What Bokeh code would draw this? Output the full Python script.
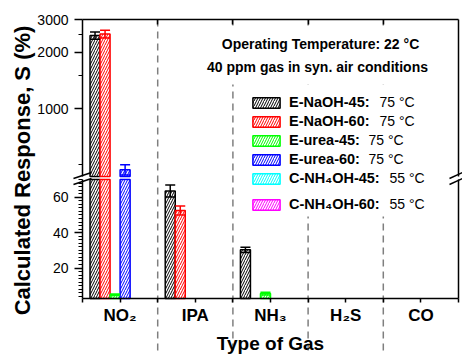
import math
import numpy as np
from bokeh.plotting import figure
from bokeh.models import (ColumnDataSource, Range1d, LogScale, LinearAxis, LogAxis, FixedTicker,
                          SingleIntervalTicker, PrintfTickFormatter, Label, Legend, LegendItem,
                          Whisker, TeeHead, Arrow, BoxAnnotation)
from bokeh.embed import file_html
from bokeh.resources import INLINE

nan = float("nan")

# ---------------- data ----------------
categories = ["NO₂", "IPA", "NH₃", "H₂S", "CO"]
series_names = ["E-NaOH-45:", "E-NaOH-60:", "E-urea-45:", "E-urea-60:", "C-NH₄OH-45:", "C-NH₄OH-60:"]
series_temps = ["75 °C", "75 °C", "75 °C", "75 °C", "55 °C", "55 °C"]
series_colors = ["#000000", "#FF0000", "#00FF00", "#0000FF", "#00FFFF", "#FF00FF"]

e_naoh_45 = [2460, 63.5, 30.3, nan, nan]
e_naoh_45_err = [110, 3.4, 1.5, nan, nan]
e_naoh_60 = [2510, 52.5, nan, nan, nan]
e_naoh_60_err = [120, 2.6, nan, nan, nan]
e_urea_45 = [4.9, nan, 5.6, nan, nan]
e_urea_45_err = [0.4, nan, 0.8, nan, nan]
e_urea_60 = [470, nan, nan, nan, nan]
e_urea_60_err = [30, nan, nan, nan, nan]
c_nh4oh_45 = [nan, nan, nan, nan, nan]
c_nh4oh_45_err = [nan, nan, nan, nan, nan]
c_nh4oh_60 = [nan, nan, nan, nan, nan]
c_nh4oh_60_err = [nan, nan, nan, nan, nan]

series_values = [e_naoh_45, e_naoh_60, e_urea_45, e_urea_60, c_nh4oh_45, c_nh4oh_60]
series_errors = [e_naoh_45_err, e_naoh_60_err, e_urea_45_err, e_urea_60_err, c_nh4oh_45_err, c_nh4oh_60_err]

# broken y axis: lower linear segment, upper log segment
LOW_MIN, LOW_MAX = 2.8, 70
UP_MIN, UP_MAX = 432, 3000
low_ticks_interval = 20
up_ticks = [1000, 2000, 3000]
up_minor_ticks = [500, 1500, 2500]

# ---------------- layout (pixels) ----------------
W, H = 462, 355
PLOT_L, PLOT_R = 82, 458          # left / right frame lines
PLOT_T, PLOT_B = 19, 298          # top / bottom frame lines
UP_BOT, LOW_TOP = 176, 179        # axis break
n_cat = len(categories)
PX = (PLOT_R - PLOT_L) / n_cat

x_start = -PLOT_L / PX
x_end = n_cat + (W - PLOT_R) / PX
k_low = (LOW_MAX - LOW_MIN) / (PLOT_B - LOW_TOP)
low_start = LOW_MIN - (H - PLOT_B) * k_low
low_end = LOW_MAX + LOW_TOP * k_low
k_up = (math.log10(UP_MAX) - math.log10(UP_MIN)) / (UP_BOT - PLOT_T)
up_start = 10 ** (math.log10(UP_MIN) - (H - UP_BOT) * k_up)
up_end = 10 ** (math.log10(UP_MAX) + PLOT_T * k_up)

def sy(y_page):
    return H - y_page

FONT = "Liberation Sans"

p = figure(width=W, height=H, output_backend="svg", toolbar_location=None,
           x_range=Range1d(x_start, x_end), y_range=Range1d(low_start, low_end),
           x_axis_type=None, y_axis_type=None, min_border=0,
           min_border_left=0, min_border_right=0, min_border_top=0, min_border_bottom=0)
p.extra_y_ranges = {"up": Range1d(up_start, up_end)}
p.extra_y_scales = {"up": LogScale()}
p.outline_line_color = None
p.background_fill_color = "white"
p.border_fill_color = "white"
for g in p.grid:
    g.visible = False

# category separators (dashed, from top frame line to bottom)
sep = list(range(1, n_cat))
p.segment(x0=sep, x1=sep, y0=[UP_MAX] * len(sep), y1=[up_start] * len(sep), y_range_name="up",
          line_color="#7f7f7f", line_dash="7 5", line_width=1.5, level="underlay")

# white boxes behind the annotation text and legend
p.add_layout(BoxAnnotation(left=194, right=441, top=sy(25), bottom=sy(84),
                           left_units="screen", right_units="screen", top_units="screen",
                           bottom_units="screen", fill_color="white", fill_alpha=1.0,
                           line_color=None, level="glyph"))
p.add_layout(BoxAnnotation(left=249, right=445, top=sy(84), bottom=sy(216),
                           left_units="screen", right_units="screen", top_units="screen",
                           bottom_units="screen", fill_color="white", fill_alpha=1.0,
                           line_color=None, level="glyph"))

# ---------------- axes ----------------
def style_axis(ax):
    ax.axis_line_width = 1.5
    ax.axis_line_color = "black"
    ax.major_tick_line_width = 1.5
    ax.minor_tick_line_width = 1.2
    ax.major_tick_line_color = "black"
    ax.minor_tick_line_color = "black"
    ax.major_label_text_color = "black"

up_axis = LogAxis(y_range_name="up", bounds=(UP_MIN, UP_MAX), fixed_location=0,
                  ticker=FixedTicker(ticks=up_ticks, minor_ticks=up_minor_ticks),
                  formatter=PrintfTickFormatter(format="%d"))
low_axis = LinearAxis(bounds=(LOW_MIN, LOW_MAX), fixed_location=0,
                      ticker=SingleIntervalTicker(interval=low_ticks_interval, num_minor_ticks=10))
for ax in (up_axis, low_axis):
    style_axis(ax)
    ax.major_tick_out = 8
    ax.major_tick_in = 0
    ax.minor_tick_out = 4
    ax.minor_tick_in = 0
    ax.major_label_standoff = 6
    ax.major_label_text_font = FONT
    ax.major_label_text_font_size = "14px"
    p.add_layout(ax, "left")

# right frame lines (no ticks)
r_low = LinearAxis(bounds=(LOW_MIN, LOW_MAX), fixed_location=n_cat, ticker=FixedTicker(ticks=[]))
r_up = LinearAxis(y_range_name="up", bounds=(UP_MIN, UP_MAX), fixed_location=n_cat,
                  ticker=FixedTicker(ticks=[]))
for ax in (r_low, r_up):
    style_axis(ax)
    ax.major_tick_out = 0
    ax.major_tick_in = 0
    ax.minor_tick_out = 0
    ax.minor_tick_in = 0
    ax.major_label_standoff = 0
    p.add_layout(ax, "right")

# top frame line with inward (unlabelled) ticks at the separators
top_axis = LinearAxis(y_range_name="up", fixed_location=UP_MAX, bounds=(0, n_cat),
                      ticker=FixedTicker(ticks=[], minor_ticks=sep))
style_axis(top_axis)
top_axis.major_tick_in = 0
top_axis.major_tick_out = 0
top_axis.minor_tick_in = 5
top_axis.minor_tick_out = 0
top_axis.minor_tick_line_width = 1.5
top_axis.major_label_standoff = 0
p.add_layout(top_axis, "above")

# bottom category axis
centers = np.arange(n_cat) + 0.5
bottom_axis = LinearAxis(fixed_location=LOW_MIN, bounds=(0, n_cat),
                         ticker=FixedTicker(ticks=list(centers), minor_ticks=list(range(0, n_cat + 1))),
                         major_label_overrides={float(c): name for c, name in zip(centers, categories)})
style_axis(bottom_axis)
bottom_axis.major_tick_out = 4
bottom_axis.major_tick_in = 0
bottom_axis.minor_tick_out = 4
bottom_axis.minor_tick_in = 0
bottom_axis.minor_tick_line_width = 1.5
bottom_axis.major_label_standoff = 3
bottom_axis.major_label_text_font = FONT
bottom_axis.major_label_text_font_style = "bold"
bottom_axis.major_label_text_font_size = "17px"
p.add_layout(bottom_axis, "below")

# ---------------- bars ----------------
n_series = len(series_names)
group_width = 0.8
bar_w = group_width / n_series
legend_renderers = []
for i in range(n_series):
    vals = np.array(series_values[i], dtype=float)
    errs = np.array(series_errors[i], dtype=float)
    color = series_colors[i]
    xs = centers + (i - (n_series - 1) / 2) * bar_w
    style = dict(width=bar_w, fill_color="white", line_color=color, line_width=1.5,
                 hatch_pattern="/", hatch_color=color, hatch_scale=5, hatch_weight=1)
    low_top = np.minimum(vals, LOW_MAX)
    up_top = np.where(vals > UP_MIN, vals, nan)
    r1 = p.vbar(x=xs, bottom=LOW_MIN, top=low_top, **style)
    p.vbar(x=xs, bottom=UP_MIN, top=up_top, y_range_name="up", **style)
    legend_renderers.append(r1)

    has = ~np.isnan(vals) & ~np.isnan(errs)
    for mask, rname in ((has & (vals <= LOW_MAX), "default"), (has & (vals > UP_MIN), "up")):
        if mask.any():
            src = ColumnDataSource(dict(x=xs[mask], lower=vals[mask] - errs[mask],
                                        upper=vals[mask] + errs[mask]))
            p.add_layout(Whisker(source=src, base="x", lower="lower", upper="upper", dimension="height",
                                 line_color=color, line_width=1.5, level="annotation", y_range_name=rname,
                                 upper_head=TeeHead(size=10, line_color=color, line_width=1.5),
                                 lower_head=TeeHead(size=10, line_color=color, line_width=1.5)))

# ---------------- axis break marks ----------------
for (x0, x1) in ((PLOT_L - 9, PLOT_L + 9), (PLOT_R - 9, PLOT_R + 4)):
    for yc in (UP_BOT - 1, LOW_TOP + 2):
        p.add_layout(Arrow(x_start=x0, y_start=sy(yc + 3), x_end=x1, y_end=sy(yc - 3),
                           start_units="screen", end_units="screen", end=None,
                           line_color="black", line_width=1.5))

# ---------------- texts ----------------
txt = dict(x_units="screen", y_units="screen", text_align="center", text_baseline="middle",
           text_font=FONT, text_font_style="bold", text_color="black")
p.add_layout(Label(x=320, y=sy(43), text="Operating Temperature: 22 °C", text_font_size="14px", **txt))
p.add_layout(Label(x=317, y=sy(66), text="40 ppm gas in syn. air conditions", text_font_size="14px", **txt))
p.add_layout(Label(x=22, y=sy(170), text="Calculated Response, S (%)", angle=math.pi / 2,
                   text_font_size="22px", **txt))
p.add_layout(Label(x=(PLOT_L + PLOT_R) / 2, y=sy(343), text="Type of Gas", text_font_size="19px", **txt))

# ---------------- legend ----------------
items = [LegendItem(label=series_names[i], renderers=[legend_renderers[i]]) for i in range(n_series)]
leg_kw = dict(glyph_width=34, glyph_height=13, label_standoff=6, spacing=3, padding=5, margin=0,
              label_height=16, border_line_color=None, background_fill_alpha=0.0,
              label_text_font=FONT, label_text_font_style="bold",
              label_text_font_size="14.5px", label_text_color="black")
p.add_layout(Legend(items=items[:5], location=(249, sy(186)), **leg_kw))
p.add_layout(Legend(items=items[5:], location=(249, sy(212)), **leg_kw))

temp_x = [379, 379, 368, 368, 389, 389]
temp_y = [101, 120, 139, 158, 177, 203]
for i in range(n_series):
    p.add_layout(Label(x=temp_x[i], y=sy(temp_y[i]), x_units="screen", y_units="screen",
                       text=series_temps[i], text_baseline="middle", text_font=FONT,
                       text_font_size="14px", text_color="black"))

open("out.html", "w").write(file_html(p, INLINE))
